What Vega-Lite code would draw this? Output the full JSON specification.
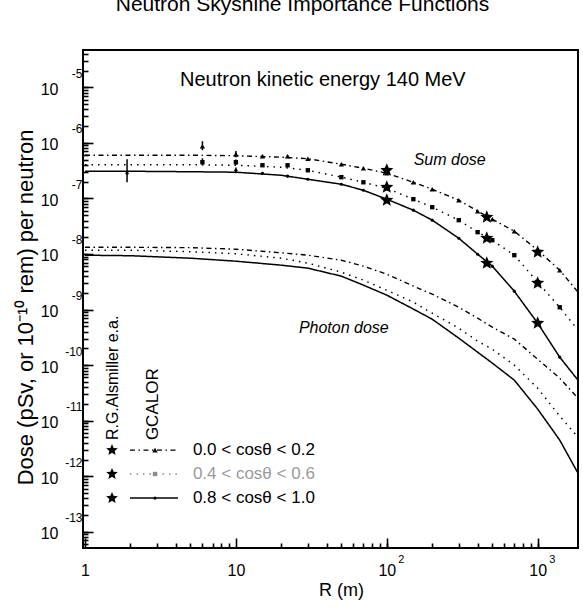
{
"$schema":"https://vega.github.io/schema/vega-lite/v6.json",
"width":495,"height":498,
"autosize":{"type":"none"},
"padding":{"left":83,"top":50,"right":5,"bottom":60},
"background":"white",
"config":{"view":{"stroke":"black","strokeWidth":2},"font":"Liberation Sans","axis":{"domain":false,"grid":false,"tickColor":"black","labelColor":"black","titleColor":"black","labelFont":"Liberation Sans","titleFont":"Liberation Sans","labelFlush":false,"labelOverlap":false,"tickWidth":1.6}},
"title":{"text":"Neutron Skyshine Importance Functions","fontSize":21,"fontWeight":"normal","font":"Liberation Sans","color":"black","anchor":"middle","dx":-28,"offset":19},
"datasets":{
"curves":[
{"group":"Sum","series":"0.0 < cosθ < 0.2","R":1,"D":5.98e-7},{"group":"Sum","series":"0.0 < cosθ < 0.2","R":2,"D":5.98e-7},{"group":"Sum","series":"0.0 < cosθ < 0.2","R":5,"D":5.98e-7},{"group":"Sum","series":"0.0 < cosθ < 0.2","R":10,"D":5.86e-7},{"group":"Sum","series":"0.0 < cosθ < 0.2","R":20,"D":5.51e-7},{"group":"Sum","series":"0.0 < cosθ < 0.2","R":30,"D":5.18e-7},{"group":"Sum","series":"0.0 < cosθ < 0.2","R":50,"D":4.12e-7},{"group":"Sum","series":"0.0 < cosθ < 0.2","R":70,"D":3.49e-7},{"group":"Sum","series":"0.0 < cosθ < 0.2","R":100,"D":2.84e-7},{"group":"Sum","series":"0.0 < cosθ < 0.2","R":150,"D":1.95e-7},{"group":"Sum","series":"0.0 < cosθ < 0.2","R":200,"D":1.46e-7},{"group":"Sum","series":"0.0 < cosθ < 0.2","R":300,"D":9.29e-8},{"group":"Sum","series":"0.0 < cosθ < 0.2","R":400,"D":5.89e-8},{"group":"Sum","series":"0.0 < cosθ < 0.2","R":500,"D":4.23e-8},{"group":"Sum","series":"0.0 < cosθ < 0.2","R":700,"D":2.57e-8},{"group":"Sum","series":"0.0 < cosθ < 0.2","R":1000,"D":1.17e-8},{"group":"Sum","series":"0.0 < cosθ < 0.2","R":1400,"D":5.11e-9},{"group":"Sum","series":"0.0 < cosθ < 0.2","R":1850,"D":2.06e-9},
{"group":"Sum","series":"0.4 < cosθ < 0.6","R":1,"D":4.04e-7},{"group":"Sum","series":"0.4 < cosθ < 0.6","R":2,"D":4.04e-7},{"group":"Sum","series":"0.4 < cosθ < 0.6","R":5,"D":4.04e-7},{"group":"Sum","series":"0.4 < cosθ < 0.6","R":10,"D":3.95e-7},{"group":"Sum","series":"0.4 < cosθ < 0.6","R":20,"D":3.64e-7},{"group":"Sum","series":"0.4 < cosθ < 0.6","R":30,"D":3.21e-7},{"group":"Sum","series":"0.4 < cosθ < 0.6","R":50,"D":2.41e-7},{"group":"Sum","series":"0.4 < cosθ < 0.6","R":70,"D":1.95e-7},{"group":"Sum","series":"0.4 < cosθ < 0.6","R":100,"D":1.52e-7},{"group":"Sum","series":"0.4 < cosθ < 0.6","R":150,"D":9.68e-8},{"group":"Sum","series":"0.4 < cosθ < 0.6","R":200,"D":6.95e-8},{"group":"Sum","series":"0.4 < cosθ < 0.6","R":300,"D":4.06e-8},{"group":"Sum","series":"0.4 < cosθ < 0.6","R":400,"D":2.47e-8},{"group":"Sum","series":"0.4 < cosθ < 0.6","R":500,"D":1.77e-8},{"group":"Sum","series":"0.4 < cosθ < 0.6","R":700,"D":9.51e-9},{"group":"Sum","series":"0.4 < cosθ < 0.6","R":1000,"D":3.11e-9},{"group":"Sum","series":"0.4 < cosθ < 0.6","R":1400,"D":1.10e-9},{"group":"Sum","series":"0.4 < cosθ < 0.6","R":1850,"D":4.26e-10},
{"group":"Sum","series":"0.8 < cosθ < 1.0","R":1,"D":3.08e-7},{"group":"Sum","series":"0.8 < cosθ < 1.0","R":2,"D":3.08e-7},{"group":"Sum","series":"0.8 < cosθ < 1.0","R":5,"D":3.02e-7},{"group":"Sum","series":"0.8 < cosθ < 1.0","R":10,"D":2.96e-7},{"group":"Sum","series":"0.8 < cosθ < 1.0","R":20,"D":2.61e-7},{"group":"Sum","series":"0.8 < cosθ < 1.0","R":30,"D":2.21e-7},{"group":"Sum","series":"0.8 < cosθ < 1.0","R":50,"D":1.80e-7},{"group":"Sum","series":"0.8 < cosθ < 1.0","R":70,"D":1.40e-7},{"group":"Sum","series":"0.8 < cosθ < 1.0","R":100,"D":9.68e-8},{"group":"Sum","series":"0.8 < cosθ < 1.0","R":150,"D":6.14e-8},{"group":"Sum","series":"0.8 < cosθ < 1.0","R":200,"D":4.06e-8},{"group":"Sum","series":"0.8 < cosθ < 1.0","R":300,"D":1.92e-8},{"group":"Sum","series":"0.8 < cosθ < 1.0","R":400,"D":9.91e-9},{"group":"Sum","series":"0.8 < cosθ < 1.0","R":500,"D":6.04e-9},{"group":"Sum","series":"0.8 < cosθ < 1.0","R":700,"D":2.14e-9},{"group":"Sum","series":"0.8 < cosθ < 1.0","R":1000,"D":5.69e-10},{"group":"Sum","series":"0.8 < cosθ < 1.0","R":1400,"D":1.39e-10},{"group":"Sum","series":"0.8 < cosθ < 1.0","R":1850,"D":5.37e-11},
{"group":"Photon","series":"0.0 < cosθ < 0.2","R":1,"D":1.32e-8},{"group":"Photon","series":"0.0 < cosθ < 0.2","R":2,"D":1.32e-8},{"group":"Photon","series":"0.0 < cosθ < 0.2","R":5,"D":1.30e-8},{"group":"Photon","series":"0.0 < cosθ < 0.2","R":10,"D":1.22e-8},{"group":"Photon","series":"0.0 < cosθ < 0.2","R":20,"D":1.05e-8},{"group":"Photon","series":"0.0 < cosθ < 0.2","R":30,"D":9.51e-9},{"group":"Photon","series":"0.0 < cosθ < 0.2","R":50,"D":7.73e-9},{"group":"Photon","series":"0.0 < cosθ < 0.2","R":70,"D":6.04e-9},{"group":"Photon","series":"0.0 < cosθ < 0.2","R":100,"D":4.34e-9},{"group":"Photon","series":"0.0 < cosθ < 0.2","R":150,"D":2.64e-9},{"group":"Photon","series":"0.0 < cosθ < 0.2","R":200,"D":1.89e-9},{"group":"Photon","series":"0.0 < cosθ < 0.2","R":300,"D":1.10e-9},{"group":"Photon","series":"0.0 < cosθ < 0.2","R":400,"D":7.00e-10},{"group":"Photon","series":"0.0 < cosθ < 0.2","R":500,"D":4.82e-10},{"group":"Photon","series":"0.0 < cosθ < 0.2","R":700,"D":2.94e-10},{"group":"Photon","series":"0.0 < cosθ < 0.2","R":1000,"D":1.28e-10},{"group":"Photon","series":"0.0 < cosθ < 0.2","R":1400,"D":5.83e-11},{"group":"Photon","series":"0.0 < cosθ < 0.2","R":1850,"D":2.55e-11},
{"group":"Photon","series":"0.4 < cosθ < 0.6","R":1,"D":1.17e-8},{"group":"Photon","series":"0.4 < cosθ < 0.6","R":2,"D":1.17e-8},{"group":"Photon","series":"0.4 < cosθ < 0.6","R":5,"D":1.10e-8},{"group":"Photon","series":"0.4 < cosθ < 0.6","R":10,"D":1.01e-8},{"group":"Photon","series":"0.4 < cosθ < 0.6","R":20,"D":8.40e-9},{"group":"Photon","series":"0.4 < cosθ < 0.6","R":30,"D":6.84e-9},{"group":"Photon","series":"0.4 < cosθ < 0.6","R":50,"D":4.71e-9},{"group":"Photon","series":"0.4 < cosθ < 0.6","R":70,"D":3.38e-9},{"group":"Photon","series":"0.4 < cosθ < 0.6","R":100,"D":2.23e-9},{"group":"Photon","series":"0.4 < cosθ < 0.6","R":150,"D":1.36e-9},{"group":"Photon","series":"0.4 < cosθ < 0.6","R":200,"D":8.61e-10},{"group":"Photon","series":"0.4 < cosθ < 0.6","R":300,"D":4.62e-10},{"group":"Photon","series":"0.4 < cosθ < 0.6","R":400,"D":2.70e-10},{"group":"Photon","series":"0.4 < cosθ < 0.6","R":500,"D":1.94e-10},{"group":"Photon","series":"0.4 < cosθ < 0.6","R":700,"D":1.00e-10},{"group":"Photon","series":"0.4 < cosθ < 0.6","R":1000,"D":3.85e-11},{"group":"Photon","series":"0.4 < cosθ < 0.6","R":1400,"D":1.21e-11},{"group":"Photon","series":"0.4 < cosθ < 0.6","R":1850,"D":5.07e-12},
{"group":"Photon","series":"0.8 < cosθ < 1.0","R":1,"D":9.51e-9},{"group":"Photon","series":"0.8 < cosθ < 1.0","R":2,"D":9.31e-9},{"group":"Photon","series":"0.8 < cosθ < 1.0","R":5,"D":8.40e-9},{"group":"Photon","series":"0.8 < cosθ < 1.0","R":10,"D":7.42e-9},{"group":"Photon","series":"0.8 < cosθ < 1.0","R":20,"D":6.29e-9},{"group":"Photon","series":"0.8 < cosθ < 1.0","R":30,"D":5.56e-9},{"group":"Photon","series":"0.8 < cosθ < 1.0","R":50,"D":3.99e-9},{"group":"Photon","series":"0.8 < cosθ < 1.0","R":70,"D":2.75e-9},{"group":"Photon","series":"0.8 < cosθ < 1.0","R":100,"D":1.82e-9},{"group":"Photon","series":"0.8 < cosθ < 1.0","R":150,"D":1.02e-9},{"group":"Photon","series":"0.8 < cosθ < 1.0","R":200,"D":6.71e-10},{"group":"Photon","series":"0.8 < cosθ < 1.0","R":300,"D":3.06e-10},{"group":"Photon","series":"0.8 < cosθ < 1.0","R":400,"D":1.71e-10},{"group":"Photon","series":"0.8 < cosθ < 1.0","R":500,"D":1.09e-10},{"group":"Photon","series":"0.8 < cosθ < 1.0","R":700,"D":5.37e-11},{"group":"Photon","series":"0.8 < cosθ < 1.0","R":1000,"D":1.62e-11},{"group":"Photon","series":"0.8 < cosθ < 1.0","R":1400,"D":4.48e-12},{"group":"Photon","series":"0.8 < cosθ < 1.0","R":1850,"D":1.14e-12}
],
"stars":[
{"R":100,"D":3.21e-7},{"R":100,"D":1.59e-7},{"R":100,"D":9.29e-8},
{"R":460,"D":4.59e-8},{"R":460,"D":1.92e-8},{"R":460,"D":6.84e-9},
{"R":1000,"D":1.08e-8},{"R":1000,"D":2.99e-9},{"R":1000,"D":5.69e-10}
],
"mc":[
{"R":1.9,"series":"0.8 < cosθ < 1.0","D":2.84e-7,"lo":1.95e-7,"hi":5.07e-7},
{"R":6,"series":"0.0 < cosθ < 0.2","D":8.69e-7,"lo":7.36e-7,"hi":1.07e-6},
{"R":6,"series":"0.4 < cosθ < 0.6","D":4.48e-7,"lo":3.95e-7,"hi":5.28e-7},
{"R":10,"series":"0.0 < cosθ < 0.2","D":6.24e-7,"lo":5.5e-7,"hi":7.1e-7},
{"R":10,"series":"0.4 < cosθ < 0.6","D":4.48e-7,"lo":4.0e-7,"hi":5.0e-7},
{"R":10,"series":"0.8 < cosθ < 1.0","D":3.21e-7,"lo":2.84e-7,"hi":3.6e-7},
{"R":15,"series":"0.0 < cosθ < 0.2","D":5.74e-7,"lo":5.5e-7,"hi":6.0e-7},
{"R":15,"series":"0.4 < cosθ < 0.6","D":3.95e-7,"lo":3.8e-7,"hi":4.1e-7},
{"R":15,"series":"0.8 < cosθ < 1.0","D":2.84e-7,"lo":2.7e-7,"hi":3.0e-7},
{"R":22,"series":"0.0 < cosθ < 0.2","D":5.74e-7,"lo":5.5e-7,"hi":6.0e-7},
{"R":22,"series":"0.4 < cosθ < 0.6","D":3.95e-7,"lo":3.8e-7,"hi":4.1e-7},
{"R":22,"series":"0.8 < cosθ < 1.0","D":2.51e-7,"lo":2.4e-7,"hi":2.65e-7}
],
"legend":[
{"series":"0.0 < cosθ < 0.2","level":2.96e-12},
{"series":"0.4 < cosθ < 0.6","level":1.10e-12},
{"series":"0.8 < cosθ < 1.0","level":4.06e-13}
]
},
"resolve":{"axis":{"x":"independent","y":"independent"}},
"layer":[
{"data":{"name":"curves"},"mark":{"type":"line","color":"black"},
 "encoding":{
  "x":{"field":"R","type":"quantitative","scale":{"type":"log","domain":[0.97,1850],"nice":false},
       "axis":{"orient":"bottom","values":[1,10,100,1000],"labelExpr":"datum.value < 5 ? '1' : '10'","tickSize":10,"offset":-10,"labelFontSize":16,"labelPadding":14,"title":"R (m)","titleFontSize":18,"titleFontWeight":"normal","titlePadding":3,"titleX":258}},
  "y":{"field":"D","type":"quantitative","scale":{"type":"log","domain":[5.13e-14,4.68e-5],"nice":false},
       "axis":{"orient":"left","values":[1e-13,1e-12,1e-11,1e-10,1e-9,1e-8,1e-7,1e-6,1e-5],"labelExpr":"'10'","tickSize":10,"offset":-10,"labelFontSize":16,"labelPadding":25,"labelOffset":2,"labelBaseline":"middle","title":"Dose (pSv, or 10⁻¹⁰ rem) per neutron","titleFontSize":22,"titleFontWeight":"normal","titlePadding":3,"titleY":257}},
  "detail":{"field":"group","type":"nominal"},
  "strokeDash":{"field":"series","type":"nominal","scale":{"domain":["0.0 < cosθ < 0.2","0.4 < cosθ < 0.6","0.8 < cosθ < 1.0"],"range":[[5,3.5,1.5,3.5],[1.5,5],[1,0]]},"legend":null},
  "strokeWidth":{"field":"series","type":"nominal","scale":{"domain":["0.0 < cosθ < 0.2","0.4 < cosθ < 0.6","0.8 < cosθ < 1.0"],"range":[1.4,1.5,1.8]},"legend":null}
 }},
{"data":{"name":"curves"},"transform":[{"filter":"datum.group === 'Sum' && datum.R >= 30 && datum.R <= 1400"}],
 "mark":{"type":"point","filled":true,"color":"black","opacity":1},
 "encoding":{
  "x":{"field":"R","type":"quantitative","axis":{"orient":"bottom","values":[2,3,4,5,6,7,8,9,20,30,40,50,60,70,80,90,100,200,300,400,500,600,700,800,900,1000],"labelExpr":"datum.value == 100 ? '2' : (datum.value == 1000 ? '3' : '')","tickSize":5,"offset":-5,"labelFontSize":11,"labelPadding":5,"labelAlign":"left","labelOffset":11,"title":null}},
  "y":{"field":"D","type":"quantitative","axis":{"orient":"left","values":[6e-14,7e-14,8e-14,9e-14,1e-13,2e-13,3e-13,4e-13,5e-13,6e-13,7e-13,8e-13,9e-13,1e-12,2e-12,3e-12,4e-12,5e-12,6e-12,7e-12,8e-12,9e-12,1e-11,2e-11,3e-11,4e-11,5e-11,6e-11,7e-11,8e-11,9e-11,1e-10,2e-10,3e-10,4e-10,5e-10,6e-10,7e-10,8e-10,9e-10,1e-9,2e-9,3e-9,4e-9,5e-9,6e-9,7e-9,8e-9,9e-9,1e-8,2e-8,3e-8,4e-8,5e-8,6e-8,7e-8,8e-8,9e-8,1e-7,2e-7,3e-7,4e-7,5e-7,6e-7,7e-7,8e-7,9e-7,1e-6,2e-6,3e-6,4e-6,5e-6,6e-6,7e-6,8e-6,9e-6,1e-5,2e-5,3e-5,4e-5],"labelExpr":"abs(log(datum.value)/LN10 - round(log(datum.value)/LN10)) < 0.01 ? '-' + (-round(log(datum.value)/LN10)) : ''","tickSize":5,"offset":-5,"labelFontSize":12,"labelPadding":1,"labelAlign":"right","labelOffset":-14,"labelBaseline":"middle","title":null}},
  "shape":{"field":"series","type":"nominal","scale":{"domain":["0.0 < cosθ < 0.2","0.4 < cosθ < 0.6","0.8 < cosθ < 1.0"],"range":["triangle-up","square","circle"]},"legend":null},
  "size":{"field":"series","type":"nominal","scale":{"domain":["0.0 < cosθ < 0.2","0.4 < cosθ < 0.6","0.8 < cosθ < 1.0"],"range":[28,10,26]},"legend":null}
 }},
{"data":{"name":"stars"},"mark":{"type":"point","shape":"M0,-1L0.2645,-0.364L0.951,-0.309L0.428,0.139L0.588,0.809L0,0.45L-0.588,0.809L-0.428,0.139L-0.951,-0.309L-0.2645,-0.364Z","filled":true,"color":"black","opacity":1,"size":190},
 "encoding":{
  "x":{"field":"R","type":"quantitative","axis":null},
  "y":{"field":"D","type":"quantitative","axis":null}
 }},
{"data":{"name":"mc"},"mark":{"type":"rule","color":"black","strokeWidth":1.5},
 "encoding":{
  "x":{"field":"R","type":"quantitative","axis":null},
  "y":{"field":"lo","type":"quantitative","axis":null},
  "y2":{"field":"hi"}
 }},
{"data":{"name":"mc"},"mark":{"type":"point","filled":true,"color":"black","opacity":1},
 "encoding":{
  "x":{"field":"R","type":"quantitative","axis":null},
  "y":{"field":"D","type":"quantitative","axis":null},
  "shape":{"field":"series","type":"nominal","legend":null},
  "size":{"field":"series","type":"nominal","legend":null}
 }},
{"data":{"name":"legend"},"mark":{"type":"point","shape":"M0,-1L0.2645,-0.364L0.951,-0.309L0.428,0.139L0.588,0.809L0,0.45L-0.588,0.809L-0.428,0.139L-0.951,-0.309L-0.2645,-0.364Z","filled":true,"color":"black","opacity":1,"size":150},
 "encoding":{
  "x":{"datum":1.51,"type":"quantitative","axis":null},
  "y":{"field":"level","type":"quantitative","axis":null}
 }},
{"data":{"name":"legend"},"mark":{"type":"rule","strokeWidth":1.4},
 "encoding":{
  "x":{"datum":1.986,"type":"quantitative","axis":null},
  "x2":{"datum":4.13},
  "y":{"field":"level","type":"quantitative","axis":null},
  "strokeDash":{"field":"series","type":"nominal","legend":null},
  "color":{"condition":{"test":"datum.series === '0.4 < cosθ < 0.6'","value":"#8c8c8c"},"value":"black"}
 }},
{"data":{"name":"legend"},"mark":{"type":"point","filled":true,"opacity":1},
 "encoding":{
  "x":{"datum":2.91,"type":"quantitative","axis":null},
  "y":{"field":"level","type":"quantitative","axis":null},
  "shape":{"field":"series","type":"nominal","legend":null},
  "size":{"field":"series","type":"nominal","legend":null},
  "color":{"condition":{"test":"datum.series === '0.4 < cosθ < 0.6'","value":"#8c8c8c"},"value":"black"}
 }},
{"data":{"name":"legend"},"mark":{"type":"text","align":"left","baseline":"middle","fontSize":17,"font":"Liberation Sans"},
 "encoding":{
  "x":{"datum":5.19,"type":"quantitative","axis":null},
  "y":{"field":"level","type":"quantitative","axis":null},
  "text":{"field":"series","type":"nominal"},
  "color":{"condition":{"test":"datum.series === '0.4 < cosθ < 0.6'","value":"#9a9a9a"},"value":"black"}
 }},
{"data":{"values":[{}]},"mark":{"type":"text","text":"Neutron kinetic energy 140 MeV","fontSize":20,"font":"Liberation Sans","color":"black","align":"center","baseline":"middle"},
 "encoding":{"x":{"datum":37.7,"type":"quantitative","axis":null},"y":{"datum":1.34e-5,"type":"quantitative","axis":null}}},
{"data":{"values":[{}]},"mark":{"type":"text","text":"Sum dose","fontSize":16,"fontStyle":"italic","font":"Liberation Sans","color":"black","align":"center","baseline":"middle"},
 "encoding":{"x":{"datum":261,"type":"quantitative","axis":null},"y":{"datum":4.86e-7,"type":"quantitative","axis":null}}},
{"data":{"values":[{}]},"mark":{"type":"text","text":"Photon dose","fontSize":16,"fontStyle":"italic","font":"Liberation Sans","color":"black","align":"center","baseline":"middle"},
 "encoding":{"x":{"datum":51.9,"type":"quantitative","axis":null},"y":{"datum":4.62e-10,"type":"quantitative","axis":null}}},
{"data":{"values":[{}]},"mark":{"type":"text","text":"R.G.Alsmiller e.a.","fontSize":16,"font":"Liberation Sans","color":"black","align":"left","baseline":"middle","angle":270},
 "encoding":{"x":{"datum":1.54,"type":"quantitative","axis":null},"y":{"datum":4.48e-12,"type":"quantitative","axis":null}}},
{"data":{"values":[{}]},"mark":{"type":"text","text":"GCALOR","fontSize":17,"font":"Liberation Sans","color":"black","align":"left","baseline":"middle","angle":270},
 "encoding":{"x":{"datum":2.84,"type":"quantitative","axis":null},"y":{"datum":4.48e-12,"type":"quantitative","axis":null}}}
]
}
